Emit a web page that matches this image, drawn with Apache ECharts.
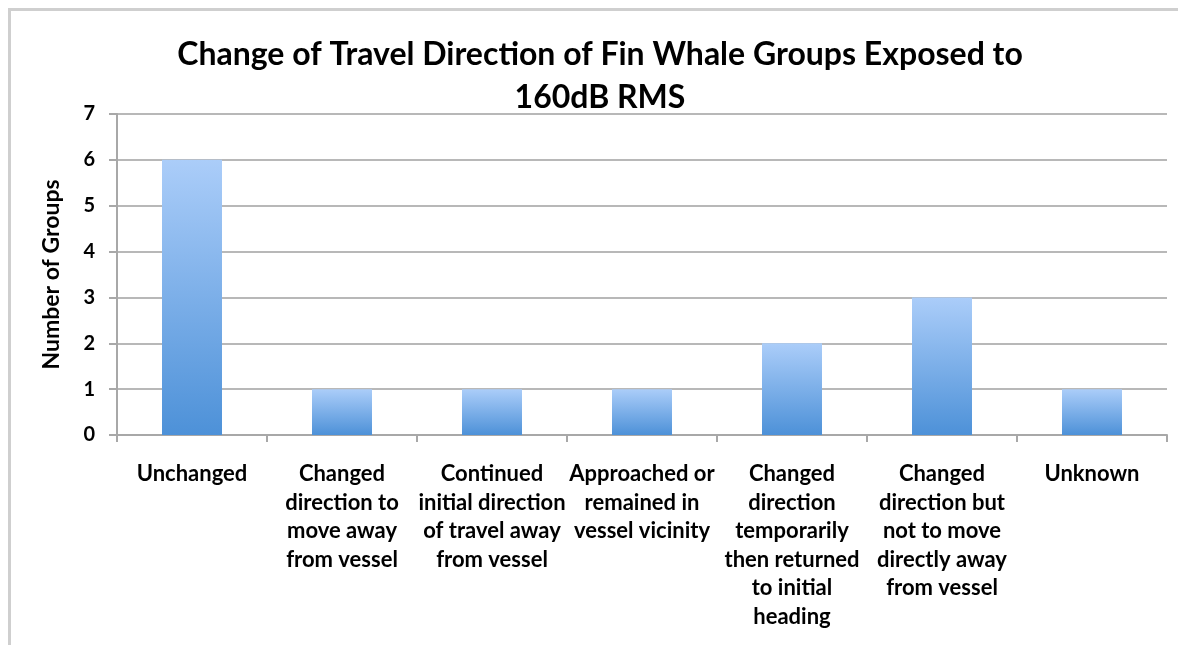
<!DOCTYPE html>
<html>
<head>
<meta charset="utf-8">
<script src="https://cdn.jsdelivr.net/npm/echarts@6/dist/echarts.min.js"></script>
<style>
  html, body { margin: 0; padding: 0; background: #fff; }
  #frame { position: absolute; left: 8px; top: 8px; width: 1200px; height: 700px;
           border-left: 3px solid #cfcfcf; border-top: 3px solid #cfcfcf; }
  #main { position: absolute; left: 0; top: 0; width: 1178px; height: 645px; }
</style>
</head>
<body>
<div id="frame"></div>
<div id="main"></div>
<script>
const categories = [
  'Unchanged',
  'Changed\ndirection to\nmove away\nfrom vessel',
  'Continued\ninitial direction\nof travel away\nfrom vessel',
  'Approached or\nremained in\nvessel vicinity',
  'Changed\ndirection\ntemporarily\nthen returned\nto initial\nheading',
  'Changed\ndirection but\nnot to move\ndirectly away\nfrom vessel',
  'Unknown'
]
const groupCounts = [6, 1, 1, 1, 2, 3, 1]

const font = 'Lato, "Open Sans", sans-serif'

let chart = echarts.init(document.getElementById('main'))
let option = {
  animation: false,
  title: {
    text: 'Change of Travel Direction of Fin Whale Groups Exposed to\n160dB RMS',
    left: 595,
    textAlign: 'center',
    top: 28,
    textStyle: {
      fontFamily: font,
      fontWeight: 'bold',
      fontSize: 32,
      lineHeight: 43,
      color: '#000'
    }
  },
  grid: {
    left: 117,
    right: 11,
    top: 114,
    bottom: 210
  },
  xAxis: {
    type: 'category',
    data: categories,
    axisLine: { lineStyle: { color: '#a8a8a8', width: 2 } },
    axisTick: { show: true, length: 7, lineStyle: { color: '#a8a8a8', width: 2 } },
    axisLabel: {
      interval: 0,
      margin: 25,
      fontFamily: font,
      fontWeight: 'bold',
      fontSize: 22,
      lineHeight: 28.5,
      color: '#000'
    }
  },
  yAxis: {
    type: 'value',
    min: 0,
    max: 7,
    interval: 1,
    name: 'Number of Groups',
    nameLocation: 'middle',
    nameGap: 54,
    nameTextStyle: {
      fontFamily: font,
      fontWeight: 'bold',
      fontSize: 23,
      color: '#000'
    },
    axisLine: { show: true, lineStyle: { color: '#a8a8a8', width: 2 } },
    axisTick: { show: true, length: 8, lineStyle: { color: '#a8a8a8', width: 2 } },
    axisLabel: {
      margin: 22,
      fontFamily: font,
      fontWeight: 'bold',
      fontSize: 20,
      color: '#000'
    },
    splitLine: { lineStyle: { color: '#b8b8b8', width: 2 } }
  },
  series: [
    {
      type: 'bar',
      data: groupCounts,
      barWidth: '40%',
      itemStyle: {
        color: new echarts.graphic.LinearGradient(0, 0, 0, 1, [
          { offset: 0, color: '#abcdf9' },
          { offset: 1, color: '#4d91d8' }
        ])
      }
    }
  ]
}
chart.setOption(option)
</script>
</body>
</html>
